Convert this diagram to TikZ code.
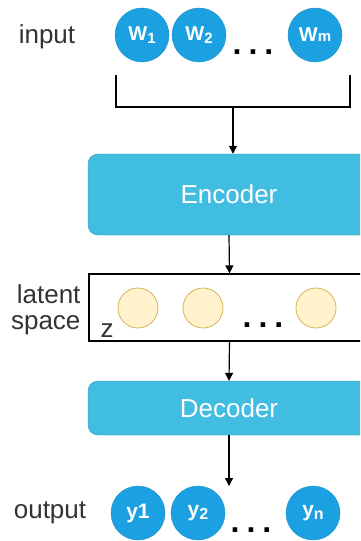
\documentclass[tikz,border=0pt]{standalone}
\usepackage{fontspec}
\setmainfont{Liberation Sans}
\usetikzlibrary{arrows.meta}

\definecolor{wordblue}{HTML}{1BA1E2}
\definecolor{wordedge}{HTML}{1B8CC6}
\definecolor{coderblue}{HTML}{42BDE2}
\definecolor{coderedge}{HTML}{3A8DBF}
\definecolor{latentfill}{HTML}{FFF2CC}
\definecolor{latentedge}{HTML}{D6B656}
\definecolor{labelgray}{HTML}{333333}

\begin{document}
\begin{tikzpicture}[x=1pt, y=-1pt,
    word style/.style={circle, draw=wordedge, fill=wordblue, minimum size=54pt, inner sep=0pt,
        text=white, font=\fontsize{20}{20}\selectfont\bfseries},
    latent style/.style={circle, draw=latentedge, fill=latentfill, line width=0.8pt, minimum size=40pt, inner sep=0pt},
    coder style/.style={draw=coderedge, fill=coderblue, rounded corners=10pt, text=white,
        font=\fontsize{26}{26}\selectfont},
    label style/.style={text=labelgray, align=right, font=\fontsize{26}{26}\selectfont},
    dots style/.style={font=\fontsize{32}{32}\selectfont\bfseries},
    link style/.style={draw=black, line width=1.2pt, -{Triangle[length=8pt,width=8pt]}},]
    \clip (0,0) rectangle (360,541);

    \pgfmathsetmacro{\sub}{-3}

    % input words
    \node[label style] (inlabel) at (47,37) {input};
    \node[word style] (w1) at (142,35) {W\raisebox{\sub pt}{\fontsize{15}{15}\selectfont 1}};
    \node[word style] (w2) at (199,35) {W\raisebox{\sub pt}{\fontsize{15}{15}\selectfont 2}};
    \node[dots style] (indots) at (253,52) {.\hspace{7pt}.\hspace{7pt}.};
    \node[word style] (wm) at (315,35) {W{\fontsize{15}{15}\selectfont m}};

    \coordinate (brl) at (116,75);
    \coordinate (brr) at (350,75);
    \coordinate (brm) at (233,107);
    \draw[line width=2.2pt] (brl) -- ++(0,32) -| (brr);

    % encoder
    \node[coder style, minimum width=282pt, minimum height=81pt] (enc) at (229,194.5) {Encoder};
    \draw[style=link style] (brm) -- (brm |- enc.north);

    % latent space
    \node[draw=black, line width=1.2pt, fill=white, minimum width=281pt, minimum height=67pt] (lat) at (229.5,307.5) {};
    \node[label style, anchor=east] (latlabel) at (84,310) {latent\\space};
    \node[font=\fontsize{26}{26}\selectfont, text=labelgray] (z) at (107,331) {z};
    \node[latent style] (z1) at (138,308) {};
    \node[latent style] (z2) at (203,308) {};
    \node[dots style] (latdots) at (263,325) {.\hspace{7pt}.\hspace{7pt}.};
    \node[latent style] (zk) at (316,308) {};
    \draw[style=link style] (enc.south) -- (lat.north);

    % decoder
    \node[coder style, minimum width=282pt, minimum height=54pt] (dec) at (229,408) {Decoder};
    \draw[style=link style] (lat.south) -- (dec.north);

    % output words
    \coordinate (out) at (229,486);
    \draw[style=link style] (dec.south) -- (out);
    \node[label style] (outlabel) at (50,513) {output};
    \node[word style, font=\fontsize{21}{21}\selectfont\bfseries] (y1) at (138,513) {y1};
    \node[word style, font=\fontsize{21}{21}\selectfont\bfseries] (y2) at (198,513) {y\raisebox{\sub pt}{\fontsize{16}{16}\selectfont 2}};
    \node[dots style] (outdots) at (251,530) {.\hspace{7pt}.\hspace{7pt}.};
    \node[word style, font=\fontsize{21}{21}\selectfont\bfseries] (yn) at (313,513) {y\raisebox{\sub pt}{\fontsize{16}{16}\selectfont n}};

\end{tikzpicture}
\end{document}
